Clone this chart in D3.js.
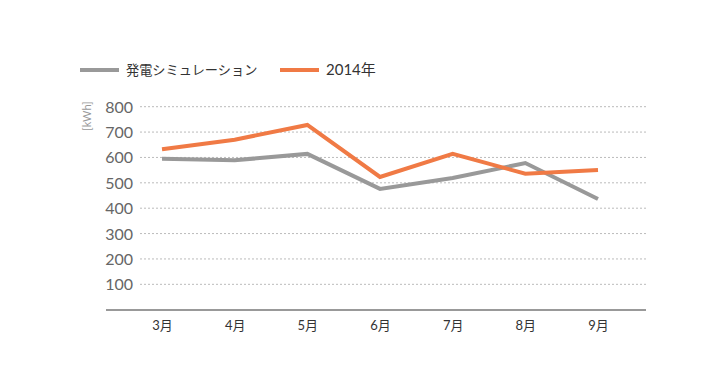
<!DOCTYPE html>
<html><head><meta charset="utf-8">
<script src="https://cdn.jsdelivr.net/npm/d3@7/dist/d3.min.js"></script>
<style>body{margin:0;background:#fff;}svg{display:block;}</style>
</head><body>
<svg id="c" width="726" height="390"></svg>
<script>
const months = ["3月","4月","5月","6月","7月","8月","9月"];
const simulation = [595, 589, 614, 476, 519, 578, 436];
const actual2014 = [632, 670, 728, 523, 614, 536, 551];
const yTicks = [100,200,300,400,500,600,700,800];
const seriesNames = ["発電シミュレーション","2014年"];
const colors = ["#999999","#f07a45"];

const svg = d3.select("#c");
const font = "'Lato','Noto Sans CJK JP',sans-serif";
const x = d3.scalePoint().domain(months).range([162, 598]);
const y = d3.scaleLinear().domain([0,800]).range([309.7,106.7]);

// grid
svg.append("g").selectAll("line").data(yTicks).join("line")
  .attr("x1",140).attr("x2",646)
  .attr("y1",d=>y(d)).attr("y2",d=>y(d))
  .attr("stroke","#bbbbbb").attr("stroke-width",1).attr("stroke-dasharray","2,2");

// y labels
const yAxis = d3.axisLeft(y).tickValues(yTicks).tickSize(0).tickPadding(0);
const yg = svg.append("g").attr("transform","translate(133,0)").call(yAxis);
yg.select(".domain").remove();
yg.selectAll("text").attr("font-family",font).attr("font-size",16).attr("fill","#666").attr("dy","0.34em");

// unit
svg.append("text").attr("transform","translate(91,116) rotate(-90)")
  .attr("text-anchor","middle").attr("font-family",font).attr("font-size",11)
  .attr("fill","#999").text("[kWh]");

// x axis baseline
svg.append("line").attr("x1",106).attr("x2",646).attr("y1",310).attr("y2",310)
  .attr("stroke","#999").attr("stroke-width",2);

const xAxis = d3.axisBottom(x).tickSize(0).tickPadding(0);
const xg = svg.append("g").attr("transform","translate(0,326)").call(xAxis);
xg.select(".domain").remove();
xg.selectAll("text").attr("font-family",font).attr("font-size",13).attr("fill","#333").attr("dy","0.34em");

// lines
const line = d3.line().x((d,i)=>x(months[i])).y(d=>y(d));
[simulation, actual2014].forEach((s,k)=>{
  svg.append("path").datum(s).attr("d",line).attr("fill","none")
    .attr("stroke",colors[k]).attr("stroke-width",4).attr("stroke-linejoin","miter");
});

// legend
const legX = [80, 280];
const legSize = [13.2, 15];
seriesNames.forEach((n,k)=>{
  svg.append("line").attr("x1",legX[k]).attr("x2",legX[k]+39).attr("y1",70).attr("y2",70)
    .attr("stroke",colors[k]).attr("stroke-width",4);
  svg.append("text").attr("x",legX[k]+46).attr("y",70).attr("dy","0.35em")
    .attr("font-family",font).attr("font-size",legSize[k]).attr("fill","#333").text(n);
});
</script>
</body></html>
